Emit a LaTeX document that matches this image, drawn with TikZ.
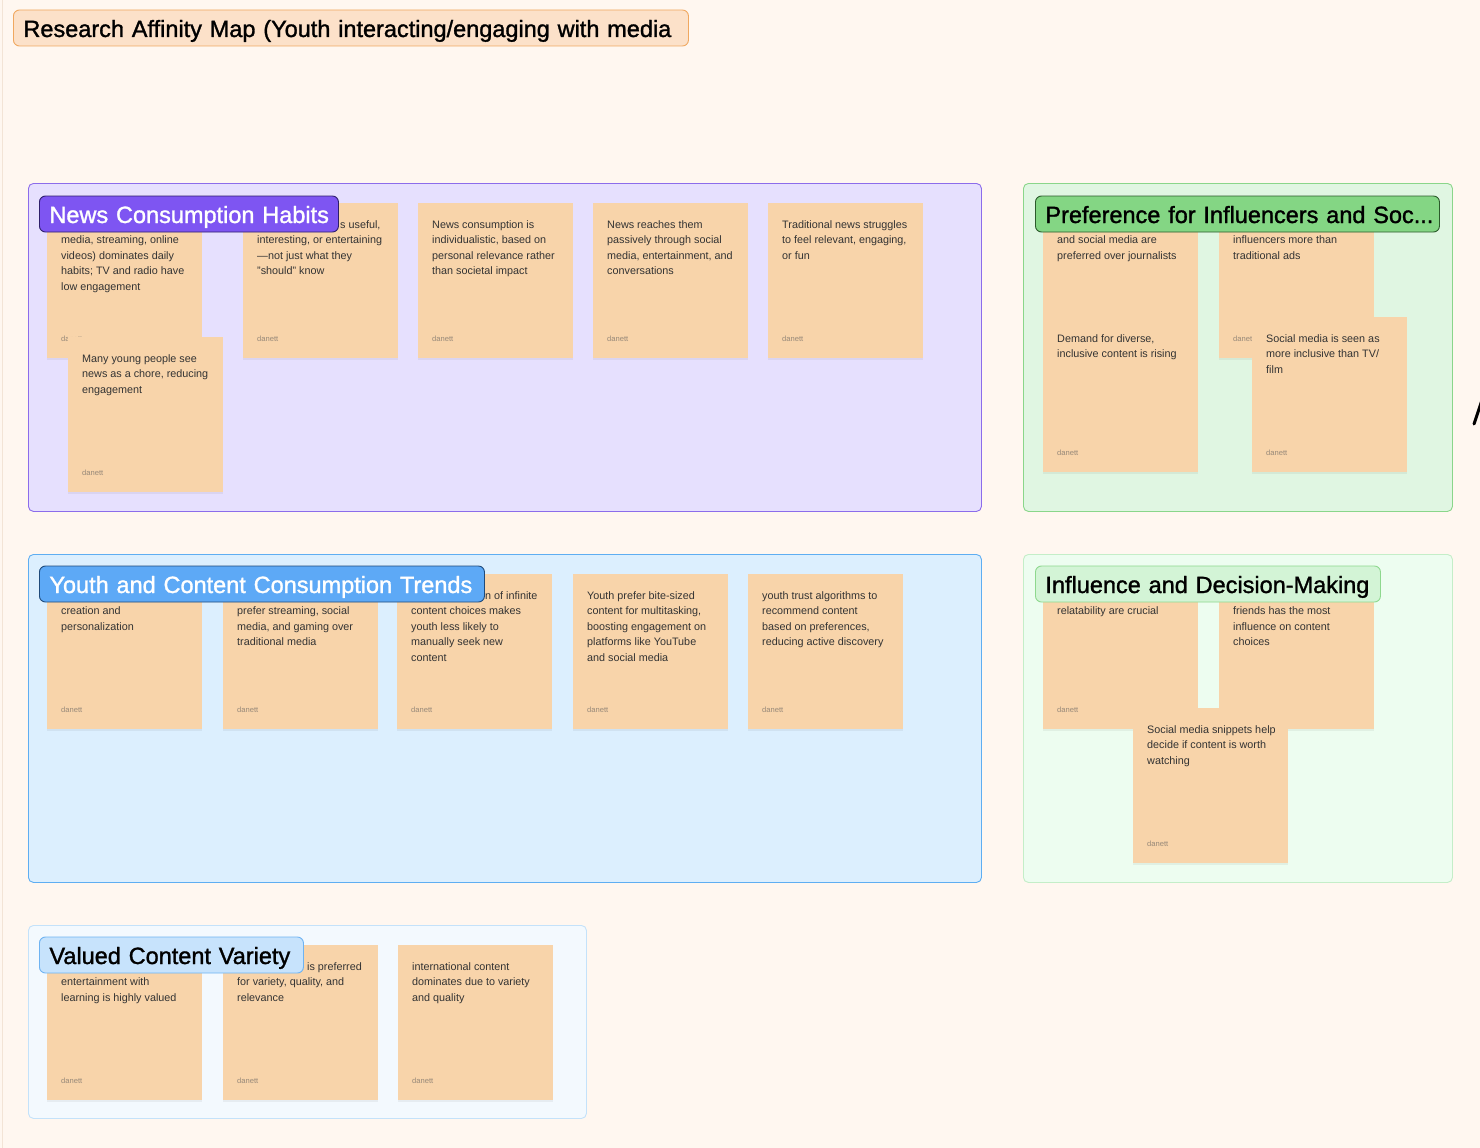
\documentclass[tikz,border=0pt]{standalone}
\usepackage{fontspec}
\setmainfont{Liberation Sans}
\newfontfamily\medfont[FakeBold=1.3]{Liberation Sans}
\usetikzlibrary{shadows,calc}
\definecolor{bgc}{HTML}{FFF7F0}
\definecolor{edgec}{HTML}{F3E4D6}
\definecolor{titlefill}{HTML}{FCE1C9}
\definecolor{titledraw}{HTML}{F0A860}
\definecolor{stickyc}{HTML}{F8D4AA}
\definecolor{stxt}{HTML}{333333}
\definecolor{authc}{HTML}{968878}
\definecolor{gAfill}{HTML}{E6E0FE}
\definecolor{gAdraw}{HTML}{8C6CEB}
\definecolor{hAfill}{HTML}{7E55F2}
\definecolor{hAdraw}{HTML}{2E1F6B}
\definecolor{gBfill}{HTML}{E0F6E2}
\definecolor{gBdraw}{HTML}{8AD68A}
\definecolor{hBfill}{HTML}{84D684}
\definecolor{hBdraw}{HTML}{2B5A2B}
\definecolor{gCfill}{HTML}{DCEFFE}
\definecolor{gCdraw}{HTML}{5EAEF2}
\definecolor{hCfill}{HTML}{5DA9F6}
\definecolor{hCdraw}{HTML}{1F4A7A}
\definecolor{gDfill}{HTML}{EDFDF0}
\definecolor{gDdraw}{HTML}{C4EEC8}
\definecolor{hDfill}{HTML}{D3F4D6}
\definecolor{hDdraw}{HTML}{8ED88E}
\definecolor{gEfill}{HTML}{F3F9FE}
\definecolor{gEdraw}{HTML}{C4E2FA}
\definecolor{hEfill}{HTML}{C7E3FC}
\definecolor{hEdraw}{HTML}{6EB3F2}
\tikzset{
  groupbox/.style={anchor=north west, rounded corners=5pt, line width=0.9pt, inner sep=0pt},
  hdrbox/.style={anchor=west, rounded corners=6pt, line width=0.9pt, minimum height=36pt,
     inner xsep=10pt, inner ysep=0pt, align=left, text height=18pt, text depth=0pt,
     font=\medfont\fontsize{23.5}{28}\selectfont},
  stickybox/.style={anchor=north west, fill=stickyc, minimum width=155pt, minimum height=155pt,
     inner sep=0pt, drop shadow={shadow xshift=0pt, shadow yshift=-2pt, opacity=0.05, fill=black}},
  stickytext/.style={anchor=north west, inner sep=0pt, align=left, text=stxt,
     font=\fontsize{10.8}{15.5}\selectfont},
  authtext/.style={anchor=west, inner sep=0pt, text=authc, font=\fontsize{7.6}{9}\selectfont}
}
% #1 name, #2 x, #3 y, #4 lines skipped, #5 text
\newcommand{\stickynoauth}[5]{%
  \node[stickybox] (#1) at (#2,#3) {};
  \node[stickytext] (#1t) at ({#2+14},{#3+14+15.5*#4}) {\strut#5};
}
\newcommand{\sticky}[5]{%
  \stickynoauth{#1}{#2}{#3}{#4}{#5}%
  \node[authtext] (#1a) at ({#2+14},{#3+136}) {danett};
}
\begin{document}
\begin{tikzpicture}[x=1pt,y=-1pt]
\useasboundingbox (0,0) rectangle (1480,1148);
\fill[bgc] (0,0) rectangle (1480,1148);
\draw[edgec, line width=1pt] (2,0) -- (2,1148);

% title
\node[hdrbox, fill=titlefill, draw=titledraw, text width=655pt, text=black] (title) at (13,28)
  {\mbox{Research Affinity Map (Youth interacting/engaging with media}};

% group frames
\node[groupbox, fill=gAfill, draw=gAdraw, minimum width=953pt, minimum height=328pt] (gA) at (28,183) {};
\node[groupbox, fill=gBfill, draw=gBdraw, minimum width=429pt, minimum height=328pt] (gB) at (1023,183) {};
\node[groupbox, fill=gCfill, draw=gCdraw, minimum width=953pt, minimum height=328pt] (gC) at (28,554) {};
\node[groupbox, fill=gDfill, draw=gDdraw, minimum width=429pt, minimum height=328pt] (gD) at (1023,554) {};
\node[groupbox, fill=gEfill, draw=gEdraw, minimum width=558pt, minimum height=193pt] (gE) at (28,925) {};

% News Consumption Habits
\sticky{a1}{47}{203}{1}{media, streaming, online\\videos) dominates daily\\habits; TV and radio have\\low engagement}
\sticky{a2}{243}{203}{1}{interesting, or entertaining\\---not just what they\\"should" know}
\node[stickytext] (a2p) at (340,217) {\strut s useful,};
\sticky{a3}{418}{203}{0}{News consumption is\\individualistic, based on\\personal relevance rather\\than societal impact}
\sticky{a4}{593}{203}{0}{News reaches them\\passively through social\\media, entertainment, and\\conversations}
\sticky{a5}{768}{203}{0}{Traditional news struggles\\to feel relevant, engaging,\\or fun}
\sticky{a6}{68}{337}{0}{Many young people see\\news as a chore, reducing\\engagement}

% Preference for Influencers
\stickynoauth{b1}{1043}{203}{1}{and social media are\\preferred over journalists}
\sticky{b2}{1219}{203}{1}{influencers more than\\traditional ads}
\sticky{b3}{1043}{317}{0}{Demand for diverse,\\inclusive content is rising}
\sticky{b4}{1252}{317}{0}{Social media is seen as\\more inclusive than TV/\\film}

% Youth and Content Consumption Trends
\sticky{c1}{47}{574}{1}{creation and\\personalization}
\sticky{c2}{223}{574}{1}{prefer streaming, social\\media, and gaming over\\traditional media}
\sticky{c3}{397}{574}{1}{content choices makes\\youth less likely to\\manually seek new\\content}
\node[stickytext] (c3p) at (485,588) {\strut n of infinite};
\sticky{c4}{573}{574}{0}{Youth prefer bite-sized\\content for multitasking,\\boosting engagement on\\platforms like YouTube\\and social media}
\sticky{c5}{748}{574}{0}{youth trust algorithms to\\recommend content\\based on preferences,\\reducing active discovery}

% Influence and Decision-Making
\sticky{d1}{1043}{574}{1}{relatability are crucial}
\stickynoauth{d2}{1219}{574}{1}{friends has the most\\influence on content\\choices}
\sticky{d3}{1133}{708}{0}{Social media snippets help\\decide if content is worth\\watching}

% Valued Content Variety
\sticky{e1}{47}{945}{1}{entertainment with\\learning is highly valued}
\sticky{e2}{223}{945}{1}{for variety, quality, and\\relevance}
\node[stickytext] (e2p) at (307,959) {\strut is preferred};
\sticky{e3}{398}{945}{0}{international content\\dominates due to variety\\and quality}

% headers
\node[hdrbox, fill=hAfill, draw=hAdraw, text=white, text width=279pt] (hA) at (39,214) {\mbox{News Consumption Habits}};
\node[hdrbox, fill=hBfill, draw=hBdraw, text=black, text width=384pt] (hB) at (1035,214) {\mbox{Preference for Influencers and Soc...}};
\node[hdrbox, fill=hCfill, draw=hCdraw, text=white, text width=425pt] (hC) at (39,584) {\mbox{Youth and Content Consumption Trends}};
\node[hdrbox, fill=hDfill, draw=hDdraw, text=black, text width=325pt] (hD) at (1035,584) {\mbox{Influence and Decision-Making}};
\node[hdrbox, fill=hEfill, draw=hEdraw, text=black, text width=244pt] (hE) at (39,955) {\mbox{Valued Content Variety}};

% stray stroke at right edge
\draw[black, line width=3pt, line cap=round] (1474,424) -- (1482,400);
\end{tikzpicture}
\end{document}
